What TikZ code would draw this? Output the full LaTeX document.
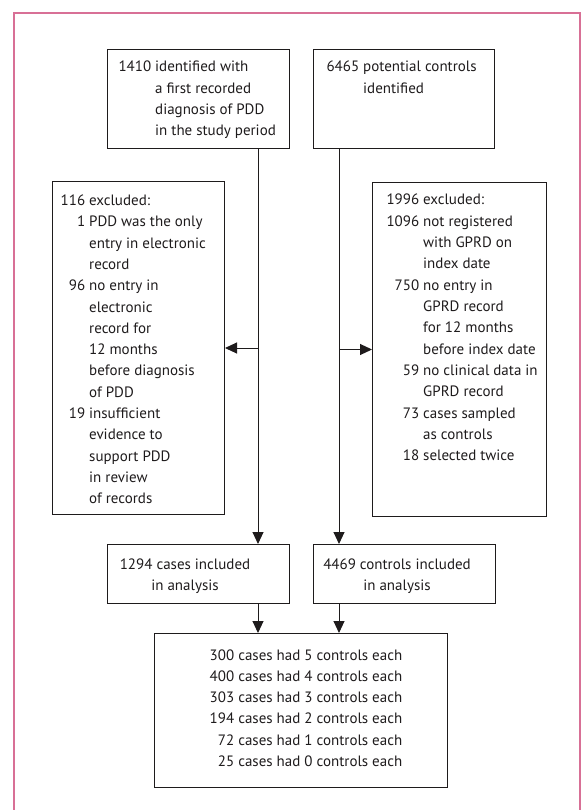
\documentclass[tikz,border=0pt]{standalone}
\usepackage{fontspec}
\setmainfont{PT Sans}
\usetikzlibrary{calc}
\usetikzlibrary{arrows.meta}
\definecolor{framepink}{RGB}{216,112,150}
\definecolor{inkgray}{RGB}{30,27,28}
\newcommand{\flowtext}{\fontsize{15}{21.3}\selectfont}
\newcommand{\num}[1]{\llap{#1\hspace{4pt}}}

\begin{document}
\begin{tikzpicture}[x=1pt,y=-1pt,
        box/.style={draw=inkgray, line width=1pt, anchor=north west, inner sep=0pt},
        txt/.style={anchor=base west, inner sep=0pt, text=inkgray, font=\flowtext},
        ctxt/.style={anchor=base, inner sep=0pt, text=inkgray, font=\flowtext},
        arr/.style={draw=inkgray, line width=1pt, -{Triangle[length=12pt,width=11pt]}}]
                    \useasboundingbox (0,0) rectangle (583,810);
                    \draw[framepink, line width=1.5pt] (14,810) -- (14,13) -- (580,13) -- (580,810);
                    % boxes
                    \node[box, minimum width=182pt, minimum height=99pt] (ident) at (107,49) {};
                    \node[box, minimum width=181pt, minimum height=99pt] (pool) at (313,49) {};
                    \node[box, minimum width=172pt, minimum height=333pt] (caseexcl) at (52,181) {};
                    \node[box, minimum width=174pt, minimum height=334pt] (ctrlexcl) at (372,182) {};
                    \node[box, minimum width=182pt, minimum height=59pt] (cases) at (107,544) {};
                    \node[box, minimum width=182pt, minimum height=59pt] (ctrls) at (313,544) {};
                    \node[box, minimum width=293pt, minimum height=154pt] (matched) at (154,633) {};
                    % texts
                    \node[txt] (identtxt) at (155,72) {\begin{tabular}[t]{@{}l@{}}
                        \num{1410}identified with\\ a first recorded\\ diagnosis of PDD\\ in the study period
                        \end{tabular}};
                    \node[txt] (pooltxt) at (363,72) {\begin{tabular}[t]{@{}l@{}}
                        \num{6465}potential controls\\ identified
                        \end{tabular}};
                    \node[txt] (caseexcltxt) at (89,205.5) {\begin{tabular}[t]{@{}l@{}}
                        \num{116}excluded:\\ \num{1}PDD was the only\\ entry in electronic\\ record\\
                        \num{96}no entry in\\ electronic\\ record for\\ 12 months\\ before diagnosis\\ of PDD\\
                        \num{19}insufficient\\ evidence to\\ support PDD\\ in review\\ of records
                        \end{tabular}};
                    \node[txt] (ctrlexcltxt) at (423,205) {\begin{tabular}[t]{@{}l@{}}
                        \num{1996}excluded:\\ \num{1096}not registered\\ with GPRD on\\ index date\\
                        \num{750}no entry in\\ GPRD record\\ for 12 months\\ before index date\\
                        \num{59}no clinical data in\\ GPRD record\\ \num{73}cases sampled\\ as controls\\
                        \num{18}selected twice
                        \end{tabular}};
                    \node[ctxt] (casestxt) at (185,569) {\begin{tabular}[t]{@{}c@{}}
                        1294 cases included\\ in analysis
                        \end{tabular}};
                    \node[ctxt] (ctrlstxt) at (397,569) {\begin{tabular}[t]{@{}c@{}}
                        4469 controls included\\ in analysis
                        \end{tabular}};
                    \node[ctxt] (matchedtxt) at (306,660) {\begin{tabular}[t]{@{}c@{}}
                        300 cases had 5 controls each\\ 400 cases had 4 controls each\\
                        303 cases had 3 controls each\\ 194 cases had 2 controls each\\
                        \phantom{0}72 cases had 1 controls each\\ \phantom{0}25 cases had 0 controls each
                        \end{tabular}};
                    % connectors
                    \coordinate (caseline) at (258,0);
                    \coordinate (ctrlline) at (339,0);
                    \draw[arr] (ident.south -| caseline) -- (cases.north -| caseline);
                    \draw[arr] (caseline |- caseexcl.east) -- (caseexcl.east);
                    \draw[arr] (pool.south -| ctrlline) -- (ctrls.north -| ctrlline);
                    \draw[arr] (ctrlline |- ctrlexcl.west) -- (ctrlexcl.west);
                    \draw[arr] (cases.south -| caseline) -- (matched.north -| caseline);
                    \draw[arr] (ctrls.south -| ctrlline) -- (matched.north -| ctrlline);
               \end{tikzpicture}
\end{document}
